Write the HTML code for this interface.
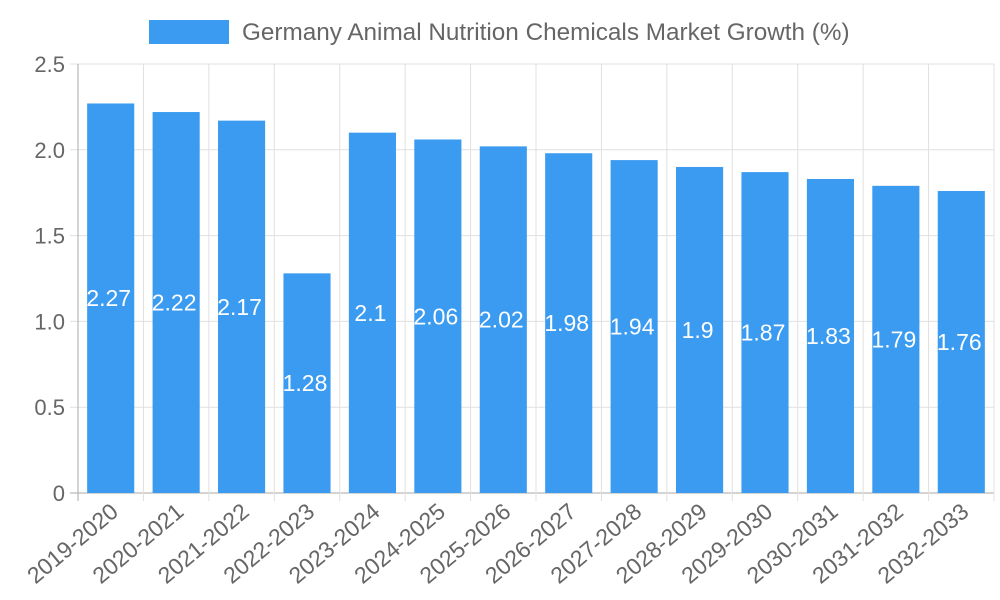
<!DOCTYPE html>
<html><head><meta charset="utf-8"><style>
html,body{margin:0;padding:0;background:#fff;}
svg{display:block;font-family:"Liberation Sans",Arial,sans-serif;}
</style></head><body>
<svg id="chart" width="1000" height="600">
<g id="grid"></g>
<g id="bars"></g>
<g id="labels"></g>
<g id="yticks"></g>
<g id="xticks"></g>
<g>
<rect x="149" y="20" width="80" height="24" fill="#3a9bf0"></rect>
<text x="242" y="40" font-size="24.3" fill="#666">Germany Animal Nutrition Chemicals Market Growth (%)</text>
</g>
</svg>
<script>
const categories=["2019-2020","2020-2021","2021-2022","2022-2023","2023-2024","2024-2025","2025-2026","2026-2027","2027-2028","2028-2029","2029-2030","2030-2031","2031-2032","2032-2033"];
const values=[2.27,2.22,2.17,1.28,2.1,2.06,2.02,1.98,1.94,1.9,1.87,1.83,1.79,1.76];
const yTicks=[0,0.5,1.0,1.5,2.0,2.5];
const yTickLabels=["0","0.5","1.0","1.5","2.0","2.5"];
const NS="http://www.w3.org/2000/svg";
const L=78,R=994,T=64,B=493,yMax=2.5;
const bw=(R-L)/categories.length;
const y=v=>B-(v/yMax)*(B-T);
const x=i=>L+bw*i;
function mk(tag,attrs,parent){const e=document.createElementNS(NS,tag);for(const k in attrs)e.setAttribute(k,attrs[k]);parent.appendChild(e);return e;}
const grid=document.getElementById('grid'),bars=document.getElementById('bars'),labels=document.getElementById('labels'),yt=document.getElementById('yticks'),xt=document.getElementById('xticks');
yTicks.forEach((t,i)=>{
 const ln=mk('line',{x1:L-8,x2:R,y1:y(t),y2:y(t),stroke:i==0?'#aaa':'#e0e0e0','stroke-width':1},grid);
 
 
 const tx=mk('text',{x:L-13,y:y(t)+8,'text-anchor':'end','font-size':22,fill:'#666'},yt);
 tx.textContent=yTickLabels[i];
 
 
});
for(let i=0;i<=categories.length;i++){
 const ln=mk('line',{x1:x(i),x2:x(i),y1:T,y2:B+8,stroke:i==0?'#aaa':'#e0e0e0','stroke-width':1},grid);
 
 
}
categories.forEach((c,i)=>{
 const w=bw*0.72,cx=x(i)+bw/2;
 const r=mk('rect',{x:cx-w/2,y:y(values[i]),width:w,height:B-y(values[i]),fill:'#3a9bf0'},bars);
 
 
 const lt=mk('text',{x:cx-2,y:(y(values[i])+B)/2+8,'text-anchor':'middle','font-size':23,fill:'#fff'},labels);
 lt.textContent=String(values[i]);
 
 
 const tx=mk('text',{x:0,y:0,'text-anchor':'end','font-size':23,fill:'#666',transform:`translate(${cx+9},${B+21}) rotate(-40)`},xt);
 tx.textContent=c;
 
 
});
</script>
</body></html>
